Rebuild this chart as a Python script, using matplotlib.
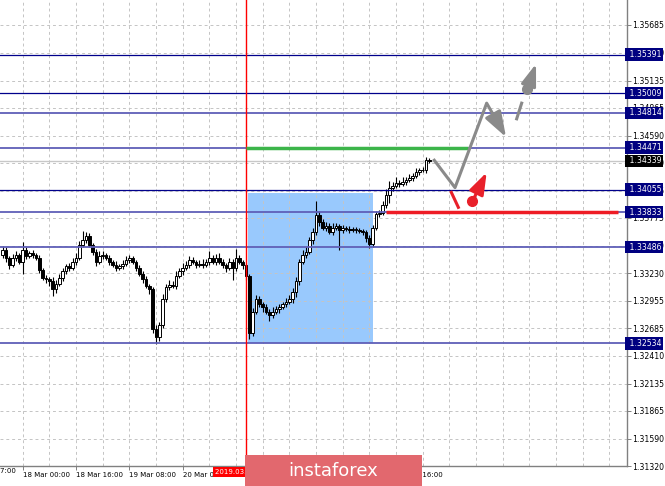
import numpy as np
import matplotlib.pyplot as plt
from matplotlib.patches import Rectangle
import matplotlib.transforms as mtransforms

# CANDLE DATA (hourly bars, bar index 0..128)
closes = [1.33462, 1.33383, 1.33314, 1.33383, 1.33413, 1.33343, 1.33462, 1.33403, 1.33432, 1.33413,
          1.33383, 1.33264, 1.33185, 1.33166, 1.33146, 1.33067, 1.33126, 1.33185, 1.33245, 1.33304,
          1.33284, 1.33343, 1.33383, 1.33511, 1.33561, 1.33600, 1.33511, 1.33442, 1.33343, 1.33403,
          1.33413, 1.33383, 1.33343, 1.33314, 1.33284, 1.33304, 1.33324, 1.33363, 1.33383, 1.33343,
          1.33284, 1.33225, 1.33166, 1.33106, 1.33067, 1.32672, 1.32593, 1.32711, 1.32968, 1.33087,
          1.33116, 1.33106, 1.33205, 1.33245, 1.33284, 1.33314, 1.33363, 1.33343, 1.33314, 1.33324,
          1.33314, 1.33343, 1.33383, 1.33343, 1.33383, 1.33343, 1.33314, 1.33284, 1.33343, 1.33284,
          1.33383, 1.33343, 1.33314, 1.33205, 1.32632, 1.32849, 1.32968, 1.32919, 1.32889, 1.32849,
          1.32810, 1.32849, 1.32869, 1.32889, 1.32919, 1.32948, 1.32968, 1.33047, 1.33146, 1.33343,
          1.33413, 1.33442, 1.33561, 1.33640, 1.33808, 1.33739, 1.33679, 1.33699, 1.33640, 1.33679,
          1.33699, 1.33660, 1.33679, 1.33670, 1.33660, 1.33670, 1.33660, 1.33650, 1.33640, 1.33581,
          1.33521, 1.33679, 1.33818, 1.33828, 1.33907, 1.34006, 1.34075, 1.34095, 1.34124, 1.34114,
          1.34134, 1.34154, 1.34174, 1.34193, 1.34233, 1.34252, 1.34252, 1.34351, 1.34339]
first_open = 1.33413
wick_up = [4, 3, 2, 4, 3, 2, 7, 3, 2, 3, 2, 3, 2, 3, 2, 4, 3, 4, 3, 2,
           3, 4, 5, 4, 8, 4, 3, 2, 3, 4, 3, 2, 3, 2, 3, 2, 3, 4, 3, 2,
           2, 3, 2, 3, 2, 2, 4, 3, 5, 3, 4, 3, 4, 3, 5, 3, 4, 3, 2, 3,
           4, 3, 6, 3, 4, 5, 3, 2, 4, 3, 8, 3, 2, 2, 2, 3, 4, 3, 2, 3,
           2, 4, 3, 3, 2, 3, 4, 3, 4, 3, 4, 5, 3, 4, 13, 4, 3, 4, 3, 5,
           3, 2, 3, 2, 3, 2, 2, 2, 2, 2, 3, 3, 3, 3, 4, 6, 7, 4, 6, 3,
           5, 3, 4, 3, 4, 2, 3, 3, 2]
wick_down = [3, 4, 4, 2, 3, 2, 12, 3, 2, 3, 2, 3, 2, 3, 4, 6, 3, 2, 3, 2,
             3, 2, 3, 2, 2, 3, 2, 3, 4, 2, 3, 2, 3, 2, 3, 2, 3, 2, 3, 2,
             3, 2, 3, 2, 4, 4, 7, 4, 3, 2, 3, 2, 3, 2, 3, 2, 3, 2, 3, 2,
             3, 2, 3, 2, 3, 2, 3, 4, 2, 12, 3, 2, 4, 4, 6, 3, 2, 3, 4, 2,
             5, 3, 2, 3, 2, 3, 2, 3, 5, 3, 2, 3, 2, 4, 3, 4, 2, 3, 2, 3,
             2, 20, 3, 2, 3, 2, 3, 2, 3, 4, 4, 3, 2, 3, 2, 3, 8, 3, 2, 3,
             2, 3, 2, 3, 2, 3, 2, 3, 2]
pip = 0.0001

# LEVELS
navy_levels = [1.35391, 1.35009, 1.34055]
soft_levels = [1.34814, 1.34471, 1.33833, 1.33486, 1.32534]
bid_price = 1.34339
y_ticks = [1.31320, 1.31590, 1.31865, 1.32135, 1.32410, 1.32685, 1.32955, 1.33230, 1.33500,
           1.33775, 1.34045, 1.34320, 1.34590, 1.34865, 1.35135, 1.35410, 1.35685]

# TIME AXIS
x_tick_pos = [-10, 6, 22, 38, 54, 70, 86, 102, 118]
x_tick_lab = ['15 Mar 17:00', '18 Mar 00:00', '18 Mar 16:00', '19 Mar 08:00', '20 Mar 00:00',
              '20 Mar 16:00', '21 Mar 08:00', '22 Mar 00:00', '22 Mar 16:00']
vline_bar = 73
vline_label = '2019.03.20 19:00'

# ZONES AND FORECAST
box_bars = (73.6, 111.1)
box_prices = (1.32534, 1.34025)
green_level, green_bars = 1.34471, (73, 139.6)
red_level, red_bars = 1.33833, (115, 184.6)
gray_path_x = [129.2, 135.7, 145.2]
gray_path_y = [1.34358, 1.34075, 1.34911]
gray_arrow1 = ((145.2, 1.34911), (151.0, 1.34575))
gray_dash = ((154.2, 1.34756), (155.7, 1.34911))
gray_dot = (157.4, 1.35050)
gray_arrow2_tip = (160.0, 1.35300)
red_seg = ((134.6, 1.34028), (136.7, 1.33880))
red_dot = (140.9, 1.33939)
red_arrow_tip = (145.2, 1.34226)

W, H = 665, 486
fig = plt.figure(figsize=(W / 100, H / 100), dpi=100)
ax = fig.add_axes([0, 20 / H, 627 / W, 466 / H])
ax.set_xlim(-0.81, 187.3)
ax.set_ylim(1.31328, 1.35932)

# grid
grid_kw = dict(color='#c4c4c4', lw=0.7, linestyle=(0, (3, 3)), zorder=1)
for xg in np.arange(-2, 188, 8):
    ax.axvline(xg, **grid_kw)
for yg in y_ticks:
    ax.axhline(yg, **grid_kw)

# blue zone
ax.add_patch(Rectangle((box_bars[0], box_prices[0]), box_bars[1] - box_bars[0],
                       box_prices[1] - box_prices[0], fc='#99c9fd', ec='none', zorder=0.5))

# candles
closes = np.array(closes)
opens = np.concatenate([[first_open], closes[:-1]])
highs = np.maximum(opens, closes) + np.array(wick_up) * pip
lows = np.minimum(opens, closes) - np.array(wick_down) * pip
idx = np.arange(len(closes))
ax.vlines(idx, lows, highs, color='black', lw=0.8, zorder=3)
up = closes >= opens
body_h = np.maximum(np.abs(closes - opens), 0.00002)
ax.bar(idx[up], body_h[up], bottom=opens[up], width=0.8, color='white',
       edgecolor='black', linewidth=0.7, zorder=3.2)
ax.bar(idx[~up], body_h[~up], bottom=closes[~up], width=0.8, color='black',
       edgecolor='black', linewidth=0.7, zorder=3.2)

# levels
ax.axhline(bid_price, color='#c8c8c8', lw=1.0, zorder=1.5)
for lv in navy_levels:
    ax.axhline(lv, color='#00008b', lw=0.9, zorder=4)
for lv in soft_levels:
    ax.axhline(lv, color='#5f5fb8', lw=1.3, zorder=4)
ax.axvline(vline_bar, color='#ff0000', lw=1.0, zorder=4)

ax.plot(green_bars, [green_level] * 2, color='#3cb54a', lw=2.5, zorder=5, solid_capstyle='butt')
ax.plot(red_bars, [red_level] * 2, color='#ee1c25', lw=2.5, zorder=5, solid_capstyle='butt')

# forecast arrows
gray = '#8a8a8a'
red = '#e8202a'
ax.plot(gray_path_x, gray_path_y, color=gray, lw=2.2, zorder=6, solid_capstyle='butt')
astyle = '-|>,head_length=1.1,head_width=0.38'
ax.annotate('', xy=gray_arrow1[1], xytext=gray_arrow1[0],
            arrowprops=dict(arrowstyle=astyle, mutation_scale=14, lw=2.2, color=gray,
                            shrinkA=0, shrinkB=0), zorder=6)
ax.plot([gray_dash[0][0], gray_dash[1][0]], [gray_dash[0][1], gray_dash[1][1]],
        color=gray, lw=2.2, zorder=6)
ax.plot(*gray_dot, 'o', color=gray, ms=7, zorder=6)
ax.annotate('', xy=gray_arrow2_tip, xytext=gray_dot,
            arrowprops=dict(arrowstyle=astyle, mutation_scale=12, lw=2.2, color=gray,
                            shrinkA=0, shrinkB=0), zorder=6)
ax.plot([red_seg[0][0], red_seg[1][0]], [red_seg[0][1], red_seg[1][1]],
        color=red, lw=2.2, zorder=6)
ax.plot(*red_dot, 'o', color=red, ms=7, zorder=6)
ax.annotate('', xy=red_arrow_tip, xytext=red_dot,
            arrowprops=dict(arrowstyle=astyle, mutation_scale=12, lw=2.2, color=red,
                            shrinkA=0, shrinkB=0), zorder=6)

# axes styling
for s in ['left', 'top']:
    ax.spines[s].set_visible(False)
for s in ['right', 'bottom']:
    ax.spines[s].set_color('#808080')
    ax.spines[s].set_linewidth(1.0)
ax.yaxis.tick_right()
ax.set_yticks(y_ticks)
ax.set_yticklabels(['%.5f' % v for v in y_ticks])
ax.tick_params(axis='y', direction='out', length=3, width=0.7, color='#808080',
               labelsize=5.6, pad=1)
ax.set_xticks(x_tick_pos[1:])
ax.set_xticklabels(x_tick_lab[1:], ha='left')
ax.tick_params(axis='x', direction='out', length=3, width=0.7, color='#808080',
               labelsize=5.0, pad=1.5)
ax.text(x_tick_pos[0], -0.004, x_tick_lab[0], transform=ax.get_xaxis_transform(),
        ha='left', va='top', fontsize=5.0, clip_on=False)

# price boxes at the right
trans = mtransforms.blended_transform_factory(ax.transAxes, ax.transData)
for lv in navy_levels + soft_levels:
    ax.text(1.0, lv, ' %.5f' % lv, transform=trans, ha='left', va='center', fontsize=5.6,
            color='white', clip_on=False, zorder=10,
            bbox=dict(boxstyle='square,pad=0.22', fc='#000080', ec='none'))
ax.text(1.0, bid_price, ' %.5f' % bid_price, transform=trans, ha='left', va='center',
        fontsize=5.6, color='white', clip_on=False, zorder=10,
        bbox=dict(boxstyle='square,pad=0.22', fc='black', ec='none'))

# vertical line time label
ax.text(vline_bar, -0.006, vline_label, transform=ax.get_xaxis_transform(), ha='center',
        va='top', fontsize=5.0, color='white', clip_on=False, zorder=10,
        bbox=dict(boxstyle='square,pad=0.25', fc='#ff0000', ec='none'))

# watermark
fig.add_artist(Rectangle((245 / W, 0), 177 / W, 31 / H, transform=fig.transFigure,
                         fc='#e2686e', ec='none', zorder=20))
fig.text(333 / W, 15 / H, 'instaforex', color='white', fontsize=13, ha='center',
         va='center', zorder=21)

fig.savefig('out.png', dpi=100)
